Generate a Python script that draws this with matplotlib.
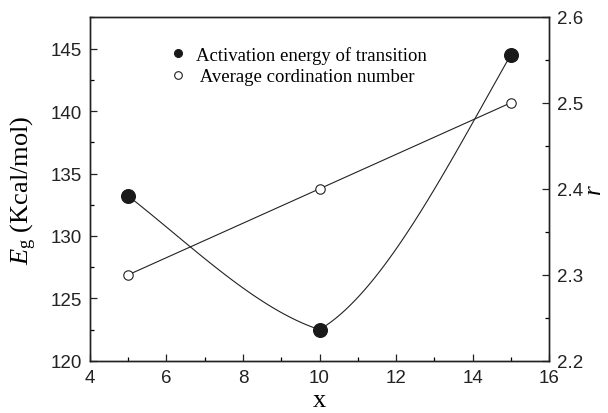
import numpy as np
import matplotlib.pyplot as plt
from matplotlib.lines import Line2D
from matplotlib.ticker import MultipleLocator

# composition x and the two measured quantities
x = [5, 10, 15]
eg = [133.2, 122.5, 144.5]      # activation energy, Kcal/mol
r = [2.3, 2.4, 2.5]             # average coordination number

# end slopes for each smoothing segment of the Eg curve (start, end)
seg_slopes = [(-2.4, -1.0), (1.8, 5.4)]


def hermite_curve(xs, ys, slopes, n=60):
    cx, cy = [], []
    for i in range(len(xs) - 1):
        x0, x1 = xs[i], xs[i + 1]
        y0, y1 = ys[i], ys[i + 1]
        m0, m1 = slopes[i]
        h = x1 - x0
        t = np.linspace(0, 1, n)
        h00 = 2 * t**3 - 3 * t**2 + 1
        h10 = t**3 - 2 * t**2 + t
        h01 = -2 * t**3 + 3 * t**2
        h11 = t**3 - t**2
        cx.extend(x0 + t * h)
        cy.extend(h00 * y0 + h10 * h * m0 + h01 * y1 + h11 * h * m1)
    return cx, cy


serif = ['Liberation Serif', 'DejaVu Serif']
sans = ['Liberation Sans', 'DejaVu Sans']
plt.rcParams['font.family'] = sans
plt.rcParams['mathtext.fontset'] = 'custom'
plt.rcParams['mathtext.it'] = 'Liberation Serif:italic'
plt.rcParams['mathtext.rm'] = 'Liberation Serif'

fig = plt.figure(figsize=(6.08, 4.14), dpi=100)
ax = fig.add_axes([0.148, 0.126, 0.755, 0.831])
ax2 = ax.twinx()

cx, cy = hermite_curve(x, eg, seg_slopes)
ax.plot(cx, cy, color='#222222', lw=0.8, zorder=2)
ax.plot(x, eg, 'o', color='#1a1a1a', ms=9.8, zorder=3)

ax2.plot(x, r, '-o', color='#222222', lw=0.8, ms=6.8,
         mfc='white', mec='#222222', mew=0.8, zorder=3)

ax.set_xlim(4, 16)
ax.set_ylim(120, 147.55)
ax2.set_ylim(2.2, 2.6)

ax.xaxis.set_major_locator(MultipleLocator(2))
ax.xaxis.set_minor_locator(MultipleLocator(1))
ax.yaxis.set_major_locator(MultipleLocator(5))
ax.yaxis.set_minor_locator(MultipleLocator(2.5))
ax2.yaxis.set_major_locator(MultipleLocator(0.1))
ax2.yaxis.set_minor_locator(MultipleLocator(0.05))

for a in (ax, ax2):
    a.tick_params(which='major', direction='in', length=5, width=0.9,
                  labelsize=13.5, pad=6, colors='#222222')
    a.tick_params(which='minor', direction='in', length=3, width=0.9)
    for s in a.spines.values():
        s.set_linewidth(1.0)
        s.set_color('#222222')
ax.tick_params(axis='x', top=False, which='both')
ax.tick_params(axis='y', right=False, which='both')
ax2.tick_params(axis='y', left=False, which='both')

ax.set_xlabel('x', fontsize=19, family=serif, labelpad=2)
ax.set_ylabel(r'$E_{\mathrm{g}}$ (Kcal/mol)', fontsize=19, family=serif,
              labelpad=8)
ax2.set_ylabel(r'$r$', fontsize=18, family=serif, labelpad=0)

handles = [
    Line2D([], [], ls='none', marker='o', color='#1a1a1a', ms=5.5),
    Line2D([], [], ls='none', marker='o', mfc='white', mec='#222222',
           mew=0.8, ms=5.5),
]
labels = ['Activation energy of transition', ' Average cordination number']
ax.legend(handles, labels, loc='upper left', bbox_to_anchor=(0.13, 0.965),
          frameon=False, prop={'family': serif, 'size': 13.5},
          handletextpad=0.35, labelspacing=0.25, handlelength=1.2)

fig.savefig('out.png', dpi=100)
